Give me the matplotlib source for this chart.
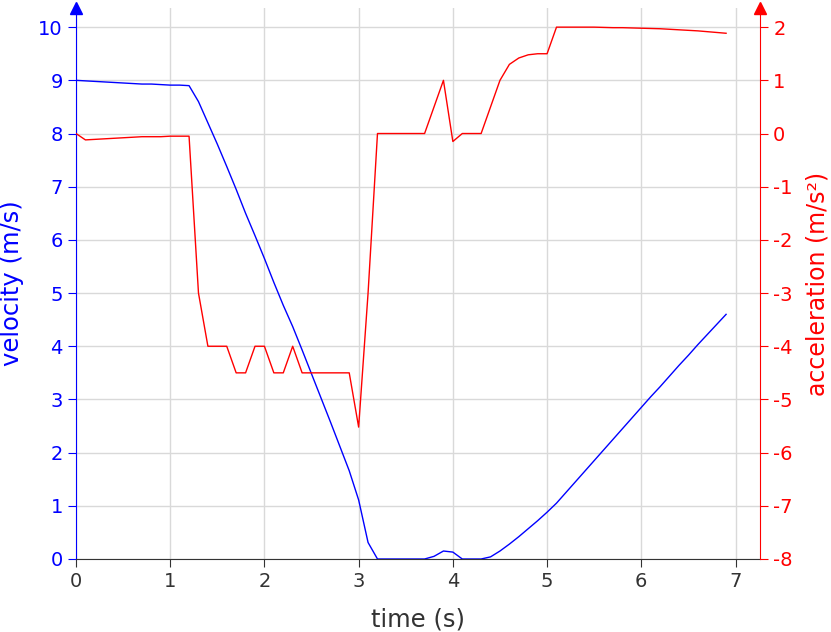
import matplotlib
matplotlib.use('Agg')
from matplotlib import pyplot as plt

plt.rcParams['axes.unicode_minus'] = False

# time step 0.1 s
time = [round(0.1 * i, 1) for i in range(70)]

velocity = [9.0, 8.99, 8.98, 8.97, 8.96, 8.95, 8.94, 8.93, 8.93, 8.92, 8.91, 8.91, 8.9,
            8.6, 8.2, 7.8, 7.38, 6.95, 6.5, 6.08, 5.65, 5.2, 4.77, 4.37, 3.93, 3.48,
            3.03, 2.58, 2.12, 1.66, 1.11, 0.31, 0.0, 0.0, 0.0, 0.0, 0.0, 0.0, 0.05,
            0.15, 0.13, 0.0, 0.0, 0.0, 0.04, 0.15, 0.28, 0.42, 0.57, 0.72, 0.88,
            1.05, 1.25, 1.45, 1.65, 1.85, 2.05, 2.25, 2.45, 2.65, 2.85, 3.05, 3.24,
            3.44, 3.64, 3.83, 4.03, 4.22, 4.41, 4.6]

acceleration = [0.0, -0.12, -0.11, -0.1, -0.09, -0.08, -0.07, -0.06, -0.06, -0.06, -0.05,
                -0.05, -0.05, -3.0, -4.0, -4.0, -4.0, -4.5, -4.5, -4.0, -4.0, -4.5, -4.5,
                -4.0, -4.5, -4.5, -4.5, -4.5, -4.5, -4.5, -5.52, -3.0, 0.0, 0.0, 0.0,
                0.0, 0.0, 0.0, 0.5, 1.0, -0.15, 0.0, 0.0, 0.0, 0.5, 1.0, 1.3, 1.42,
                1.48, 1.5, 1.5, 2.0, 2.0, 2.0, 2.0, 2.0, 1.995, 1.99, 1.99, 1.985, 1.98,
                1.975, 1.97, 1.96, 1.95, 1.94, 1.93, 1.915, 1.9, 1.885]

grey = '#333333'
fig = plt.figure(figsize=(8.31, 6.32), dpi=100)
ax = fig.add_axes([76 / 831, 73 / 632, 684 / 831, 551 / 632])
ax2 = ax.twinx()

ax.plot(time, velocity, color='blue', lw=1)
ax2.plot(time, acceleration, color='red', lw=1)

ax.set_xlim(0, 7.26)
ax.set_ylim(0, 10.36)
ax2.set_ylim(-8, 2.36)
ax.set_xticks(range(8))
ax.set_yticks(range(11))
ax2.set_yticks(range(-8, 3))

ax.grid(True, color='#d9d9d9', lw=1)
ax.set_axisbelow(True)

for a in (ax, ax2):
    a.spines['top'].set_visible(False)
ax.spines['right'].set_visible(False)
ax2.spines['left'].set_visible(False)
ax2.spines['bottom'].set_visible(False)
ax.spines['left'].set_color('blue')
ax2.spines['right'].set_color('red')
ax.spines['bottom'].set_color(grey)

ax.tick_params(axis='y', colors='blue', labelsize=14, length=6)
ax2.tick_params(axis='y', colors='red', labelsize=14, length=6)
ax.tick_params(axis='x', colors=grey, labelsize=14, length=6)

ax.set_xlabel('time (s)', fontsize=17.5, color=grey, labelpad=12)
ax.set_ylabel('velocity (m/s)', fontsize=17.5, color='blue', labelpad=10)
ax2.set_ylabel('acceleration (m/s²)', fontsize=17, color='red', labelpad=9)

# стрелки на концах осей
ax.plot([0], [1], marker='^', color='blue', markersize=9, transform=ax.transAxes, clip_on=False)
ax2.plot([1], [1], marker='^', color='red', markersize=9, transform=ax2.transAxes, clip_on=False)

plt.savefig('out.png', dpi=100)
